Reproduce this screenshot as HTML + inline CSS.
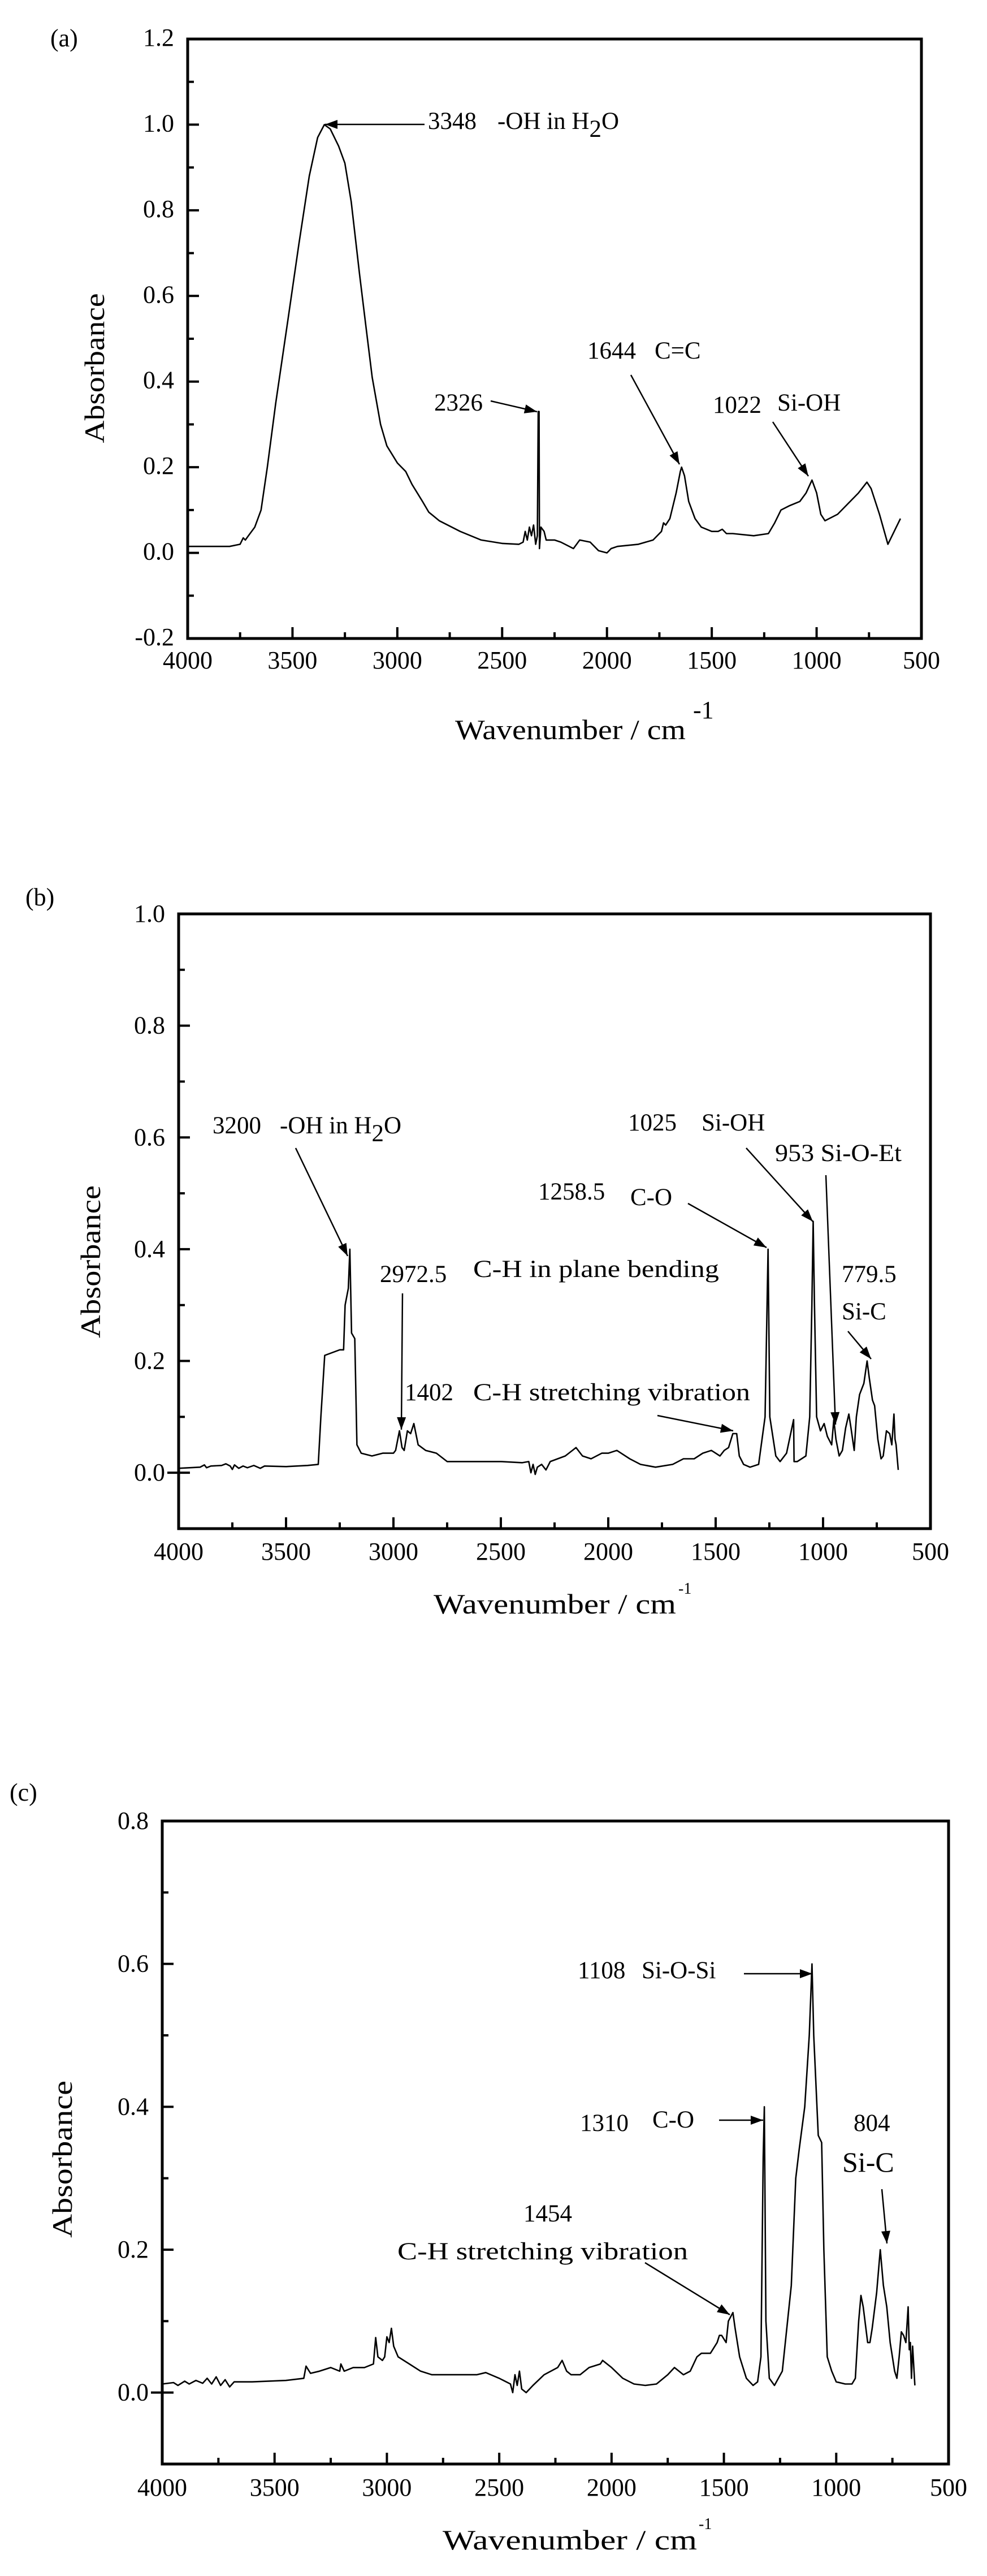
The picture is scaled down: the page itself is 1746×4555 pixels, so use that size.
<!DOCTYPE html>
<html><head><meta charset="utf-8">
<style>
html,body{margin:0;padding:0;background:#fff;}
svg{display:block;}
svg text{font-family:"Liberation Serif","DejaVu Serif",serif;fill:#000;}
</style></head>
<body>
<svg id="s" width="1746" height="4555" viewBox="0 0 1746 4555" xmlns="http://www.w3.org/2000/svg" font-family="'Liberation Serif', 'DejaVu Serif', serif">
<rect width="1746" height="4555" fill="#fff"/>
<g id="g"></g>
<!-- (a) texts -->
<text x="89" y="82" font-size="44">(a)</text>
<text transform="translate(184,651) rotate(-90)" text-anchor="middle" font-size="50" textLength="265" lengthAdjust="spacingAndGlyphs">Absorbance</text>
<text x="805" y="1307" font-size="50" textLength="408" lengthAdjust="spacingAndGlyphs">Wavenumber / cm</text>
<text x="1226" y="1270" font-size="44">-1</text>
<text x="757" y="228" font-size="43">3348</text>
<text x="880" y="228" font-size="43">-OH in H<tspan dy="14">2</tspan><tspan dy="-14">O</tspan></text>
<text x="768" y="726" font-size="43">2326</text>
<text x="1039" y="634" font-size="43">1644</text>
<text x="1158" y="634" font-size="43">C=C</text>
<text x="1261" y="730" font-size="43">1022</text>
<text x="1375" y="726" font-size="43">Si-OH</text>
<!-- (b) texts -->
<text x="45" y="1601" font-size="44">(b)</text>
<text transform="translate(177,2231) rotate(-90)" text-anchor="middle" font-size="50" textLength="270" lengthAdjust="spacingAndGlyphs">Absorbance</text>
<text x="767" y="2853" font-size="50" textLength="429" lengthAdjust="spacingAndGlyphs">Wavenumber / cm</text>
<text x="1200" y="2818" font-size="28">-1</text>
<text x="376" y="2004" font-size="43">3200</text>
<text x="495" y="2004" font-size="43">-OH in H<tspan dy="14">2</tspan><tspan dy="-14">O</tspan></text>
<text x="672" y="2267" font-size="43">2972.5</text>
<text x="837" y="2258" font-size="43" textLength="435" lengthAdjust="spacingAndGlyphs">C-H in plane bending</text>
<text x="716" y="2476" font-size="43">1402</text>
<text x="837" y="2476" font-size="43" textLength="490" lengthAdjust="spacingAndGlyphs">C-H stretching vibration</text>
<text x="952" y="2121" font-size="43">1258.5</text>
<text x="1115" y="2131" font-size="43">C-O</text>
<text x="1111" y="1999" font-size="43">1025</text>
<text x="1241" y="1999" font-size="43">Si-OH</text>
<text x="1371" y="2053" font-size="43" textLength="224" lengthAdjust="spacingAndGlyphs">953 Si-O-Et</text>
<text x="1489" y="2267" font-size="43">779.5</text>
<text x="1489" y="2333" font-size="43">Si-C</text>
<!-- (c) texts -->
<text x="17" y="3184" font-size="44">(c)</text>
<text transform="translate(127,3818) rotate(-90)" text-anchor="middle" font-size="50" textLength="278" lengthAdjust="spacingAndGlyphs">Absorbance</text>
<text x="783" y="4508" font-size="50" textLength="450" lengthAdjust="spacingAndGlyphs">Wavenumber / cm</text>
<text x="1236" y="4472" font-size="28">-1</text>
<text x="1022" y="3498" font-size="43">1108</text>
<text x="1135" y="3498" font-size="43">Si-O-Si</text>
<text x="1026" y="3768" font-size="43">1310</text>
<text x="1154" y="3762" font-size="43">C-O</text>
<text x="1510" y="3768" font-size="43">804</text>
<text x="1490" y="3840" font-size="50">Si-C</text>
<text x="926" y="3928" font-size="43">1454</text>
<text x="703" y="3995" font-size="43" textLength="514" lengthAdjust="spacingAndGlyphs">C-H stretching vibration</text>
</svg>
<script>
(function(){
var NS="http://www.w3.org/2000/svg",g=document.getElementById("g");
function el(t,a,txt){var e=document.createElementNS(NS,t);for(var k in a)e.setAttribute(k,a[k]);if(txt!=null)e.textContent=txt;g.appendChild(e);return e;}
function arrow(x1,y1,x2,y2){
 el("line",{x1:x1,y1:y1,x2:x2,y2:y2,stroke:"#000","stroke-width":2.5});
 var dx=x2-x1,dy=y2-y1,l=Math.sqrt(dx*dx+dy*dy),ux=dx/l,uy=dy/l,h=22,w=8;
 var bx=x2-ux*h,by=y2-uy*h;
 el("polygon",{points:x2+","+y2+" "+(bx-uy*w)+","+(by+ux*w)+" "+(bx+uy*w)+","+(by-ux*w),fill:"#000"});
}
function plot(c){
 var L=c.L,R=c.R,T=c.T,B=c.B;
 function X(w){return L+(4000-w)/3500*(R-L);}
 function Y(v){return B-(v-c.ymin)/(c.ymax-c.ymin)*(B-T);}
 var d="";
 for(var i=0;i<c.data.length;i+=2){d+=(i?"L":"M")+X(c.data[i]).toFixed(1)+","+Y(c.data[i+1]).toFixed(1);}
 el("path",{d:d,fill:"none",stroke:"#000","stroke-width":2.6,"stroke-linejoin":"round"});
 for(var w=4000;w>=500;w-=250){var x=X(w),maj=(w%500==0);
  el("line",{x1:x,y1:B,x2:x,y2:B-(maj?20:11),stroke:"#000","stroke-width":4});
  if(maj)el("text",{x:x,y:B+c.xlb,"font-size":44,"text-anchor":"middle","font-family":"Liberation Serif, serif"},String(w));}
 for(var k=Math.round(c.ymin*10);k<=Math.round(c.ymax*10);k++){var v=k/10,y=Y(v),maj=(k%2==0);
  if(y<T-1||y>B+1)continue;
  el("line",{x1:L,y1:y,x2:L+(maj?20:11),y2:y,stroke:"#000","stroke-width":4});
  if(maj){el("text",{x:L-24,y:y+c.ylb,"font-size":44,"text-anchor":"end","font-family":"Liberation Serif, serif"},v.toFixed(1));}
  if(k==0&&c.zeroOut)el("line",{x1:L-20,y1:y,x2:L,y2:y,stroke:"#000","stroke-width":4});
 }
 el("rect",{x:L,y:T,width:R-L,height:B-T,fill:"none",stroke:"#000","stroke-width":5});
}
plot({L:332,R:1630,T:69,B:1129,ymin:-0.2,ymax:1.2,xlb:53,ylb:12,data:[
4000,0.015,3800,0.015,3750,0.02,3735,0.035,3725,0.03,3710,0.04,3680,0.06,3650,0.1,3620,0.2,3580,0.35,3520,0.55,3470,0.72,3420,0.88,3380,0.97,3348,1.0,3320,0.99,3280,0.95,3250,0.91,3220,0.82,3180,0.65,3150,0.53,3120,0.41,3080,0.3,3050,0.25,3000,0.21,2960,0.19,2930,0.16,2880,0.12,2850,0.095,2800,0.075,2700,0.05,2600,0.03,2500,0.022,2420,0.02,2400,0.025,2390,0.05,2380,0.03,2370,0.06,2360,0.04,2350,0.065,2340,0.02,2332,0.04,2328,0.33,2324,0.33,2322,0.01,2315,0.06,2300,0.05,2290,0.03,2250,0.03,2220,0.025,2200,0.02,2160,0.01,2130,0.03,2080,0.025,2040,0.005,2000,0.0,1980,0.01,1950,0.015,1850,0.02,1780,0.03,1740,0.05,1730,0.07,1720,0.065,1700,0.08,1670,0.14,1650,0.19,1644,0.2,1630,0.18,1610,0.12,1580,0.08,1550,0.06,1500,0.05,1470,0.05,1450,0.055,1430,0.045,1400,0.045,1300,0.04,1230,0.045,1200,0.07,1170,0.1,1130,0.11,1080,0.12,1050,0.14,1022,0.17,1000,0.14,980,0.09,960,0.075,940,0.08,900,0.09,800,0.14,760,0.165,740,0.15,700,0.09,660,0.02,620,0.06,600,0.08]});
plot({L:316,R:1646,T:1616,B:2703,ymin:-0.1,ymax:1.0,xlb:55,ylb:14,zeroOut:1,data:[
4000,0.008,3950,0.009,3900,0.01,3880,0.014,3870,0.009,3850,0.012,3800,0.013,3780,0.016,3760,0.012,3750,0.006,3740,0.014,3720,0.008,3700,0.012,3680,0.009,3650,0.013,3620,0.008,3600,0.012,3500,0.011,3400,0.013,3350,0.015,3338,0.1,3320,0.21,3250,0.22,3232,0.22,3225,0.3,3210,0.33,3203,0.4,3195,0.25,3180,0.24,3170,0.05,3150,0.035,3100,0.03,3050,0.035,3000,0.035,2990,0.04,2972,0.075,2960,0.045,2950,0.04,2935,0.075,2920,0.07,2905,0.088,2885,0.05,2850,0.04,2800,0.035,2750,0.02,2500,0.02,2400,0.018,2370,0.02,2360,0.0,2350,0.015,2340,-0.003,2330,0.01,2310,0.015,2290,0.005,2270,0.02,2200,0.03,2150,0.045,2120,0.03,2080,0.025,2030,0.035,2000,0.035,1960,0.04,1900,0.025,1850,0.015,1780,0.01,1700,0.015,1650,0.025,1600,0.025,1560,0.035,1520,0.04,1480,0.03,1460,0.04,1440,0.045,1420,0.07,1402,0.07,1390,0.03,1370,0.015,1340,0.01,1300,0.015,1270,0.1,1256,0.4,1248,0.1,1220,0.03,1200,0.02,1170,0.035,1137,0.095,1135,0.02,1120,0.02,1080,0.03,1062,0.1,1052,0.3,1046,0.45,1040,0.3,1030,0.1,1012,0.075,995,0.088,980,0.065,960,0.05,950,0.095,940,0.06,925,0.03,910,0.04,895,0.08,880,0.105,870,0.08,855,0.04,845,0.1,830,0.14,810,0.16,795,0.2,785,0.17,770,0.13,760,0.12,745,0.06,730,0.025,720,0.03,705,0.075,690,0.07,680,0.05,670,0.105,665,0.06,660,0.05,650,0.005]});
plot({L:287,R:1678,T:3220,B:4357,ymin:-0.1,ymax:0.8,xlb:56,ylb:14,zeroOut:1,data:[
4000,0.012,3950,0.014,3930,0.01,3900,0.016,3880,0.012,3850,0.017,3820,0.013,3800,0.02,3780,0.012,3760,0.022,3740,0.01,3720,0.018,3700,0.008,3680,0.015,3600,0.015,3450,0.017,3370,0.02,3360,0.037,3340,0.027,3300,0.03,3250,0.035,3210,0.03,3205,0.04,3190,0.03,3150,0.035,3100,0.035,3060,0.04,3050,0.077,3040,0.05,3020,0.045,3010,0.05,3000,0.078,2990,0.07,2980,0.09,2970,0.065,2950,0.05,2900,0.04,2850,0.03,2800,0.025,2600,0.025,2560,0.028,2500,0.02,2450,0.012,2440,0.0,2430,0.025,2420,0.01,2410,0.03,2400,0.005,2380,0.0,2350,0.01,2300,0.025,2240,0.035,2220,0.045,2200,0.03,2180,0.025,2140,0.025,2100,0.035,2050,0.04,2040,0.045,2000,0.035,1950,0.02,1900,0.012,1850,0.01,1800,0.012,1750,0.025,1720,0.035,1680,0.025,1650,0.03,1620,0.05,1600,0.055,1560,0.055,1530,0.07,1520,0.08,1510,0.08,1490,0.07,1480,0.1,1460,0.112,1450,0.09,1430,0.05,1400,0.02,1370,0.01,1350,0.015,1335,0.05,1325,0.33,1320,0.4,1313,0.1,1298,0.02,1275,0.01,1240,0.03,1200,0.15,1180,0.3,1165,0.34,1140,0.4,1120,0.5,1108,0.6,1100,0.5,1080,0.36,1065,0.35,1055,0.2,1040,0.05,1020,0.03,1000,0.015,960,0.012,930,0.012,915,0.02,900,0.1,890,0.136,880,0.12,860,0.07,850,0.07,840,0.09,820,0.14,804,0.2,790,0.15,775,0.12,760,0.07,740,0.03,730,0.02,720,0.05,710,0.085,700,0.08,690,0.07,680,0.12,675,0.06,670,0.07,665,0.02,660,0.065,650,0.01]});
arrow(751,220,575,220);arrow(868,709,950,728);arrow(1116,663,1202,821);arrow(1367,746,1430,842);
arrow(523,2030,615,2221);arrow(712,2287,710,2528);arrow(1163,2503,1297,2530);arrow(1217,2128,1356,2206);
arrow(1320,2030,1438,2160);arrow(1461,2078,1478,2519);arrow(1500,2354,1541,2403);
arrow(1316,3490,1437,3490);arrow(1272,3749,1350,3749);arrow(1560,3871,1569,3967);arrow(1141,4001,1291,4093);
})();
</script>
</body></html>
